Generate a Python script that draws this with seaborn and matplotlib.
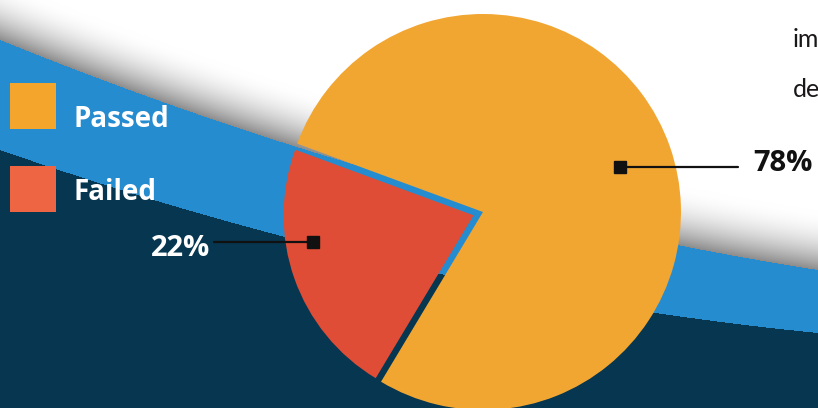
import numpy as np
import matplotlib.pyplot as plt
from matplotlib.patches import Rectangle
import seaborn as sns

# data
labels = ["Passed", "Failed"]
shares = [78, 22]
pct_labels = ["78%", "22%"]
slice_colors = ["#f2a632", "#df4d36"]
legend_colors = ["#f4a52c", "#ee6543"]

W, H = 818, 408

sns.set_theme(style="white")
plt.rcParams['font.family'] = ['Open Sans', 'DejaVu Sans']

fig = plt.figure(figsize=(W / 100, H / 100), dpi=100)
ax = fig.add_axes([0, 0, 1, 1])

# background: white page, grey shadow, blue band and navy bottom
X, Y = np.meshgrid(np.arange(W) + 0.5, np.arange(H) + 0.5)
top = 40 + 0.4057 * X - 1.522e-4 * X ** 2
low = 150 + 0.3487 * X - 1.528e-4 * X ** 2
shade = np.clip(1 - (top - Y) / 60, 0, 1)
img = np.repeat((1 - 0.45 * shade ** 2)[..., None], 3, axis=2)
img[Y >= top] = np.array([38, 140, 208]) / 255
img[Y >= low] = np.array([6, 54, 80]) / 255
ax.imshow(img, extent=(0, W, 0, H), origin="upper", interpolation="bilinear")

# pie (explode is in data units here, pixels)
wedges, _ = ax.pie(shares, colors=slice_colors, explode=[0, 10],
                   startangle=239, counterclock=True,
                   center=(483, H - 212), radius=198, frame=True,
                   wedgeprops=dict(linewidth=0))
wedges[1].set_radius(190)  # the pulled-out slice is a bit smaller

# leader lines and percentage labels
ax.plot([620, 738], [H - 167, H - 167], color="#111111", lw=1.6)
ax.plot(620, H - 167, marker="s", ms=8, color="#111111")
ax.text(753, H - 171, pct_labels[0], ha="left", va="baseline",
        fontsize=21, fontweight="bold", color="#111111")

ax.plot([214, 313], [H - 242, H - 242], color="#111111", lw=1.6)
ax.plot(313, H - 242, marker="s", ms=8, color="#111111")
ax.text(210, H - 256, pct_labels[1], ha="right", va="baseline",
        fontsize=21, fontweight="bold", color="white")

# legend squares
for i, (lab, col) in enumerate(zip(labels, legend_colors)):
    y0 = 83 + i * 83
    ax.add_patch(Rectangle((10, H - y0 - 46), 46, 46, color=col, lw=0))
    ax.text(73, H - (127 + i * 73), lab, ha="left", va="baseline",
            fontsize=20, fontweight="bold", color="white")

# neighbouring page text
ax.text(793, H - 47, "im", ha="left", va="baseline", fontsize=18,
        color="#1a1718", family="Lato")
ax.text(793, H - 97, "de", ha="left", va="baseline", fontsize=18,
        color="#1a1718", family="Lato")

ax.set_xlim(0, W)
ax.set_ylim(0, H)
ax.set_aspect("auto")
ax.axis("off")

fig.savefig("out.png", dpi=100)
